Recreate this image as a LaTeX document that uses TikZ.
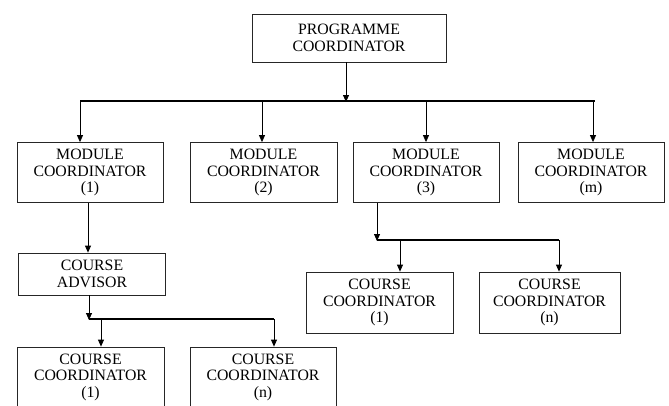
\documentclass[tikz,border=0pt]{standalone}
\usepackage{fontspec}
\setmainfont{Liberation Serif}
\usetikzlibrary{arrows.meta}
\begin{document}
\begin{tikzpicture}[x=1pt,y=-1pt,
  box/.style={draw=black!85,line width=0.8pt,rectangle,inner sep=0pt,align=center,
    font=\fontsize{15.8}{16.5}\selectfont},
  arr/.style={line width=0.8pt,-{Triangle[length=7pt,width=6pt]}},
  ln/.style={line width=0.8pt},
  bus/.style={line width=2.2pt}]
\useasboundingbox (0,0) rectangle (669,405);
\node[box,minimum width=194pt,minimum height=48pt] (prog) at (349,38) {PROGRAMME\\COORDINATOR};
\node[box,minimum width=146pt,minimum height=60pt] (m1) at (90,172.5) {MODULE\\COORDINATOR\\(1)};
\node[box,minimum width=147pt,minimum height=60pt] (m2) at (263.5,172.5) {MODULE\\COORDINATOR\\(2)};
\node[box,minimum width=146pt,minimum height=60pt] (m3) at (426,172.5) {MODULE\\COORDINATOR\\(3)};
\node[box,minimum width=146pt,minimum height=60pt] (mm) at (591,172.5) {MODULE\\COORDINATOR\\(m)};
\node[box,minimum width=147pt,minimum height=42pt] (ca) at (92,274) {COURSE\\ADVISOR};
\node[box,minimum width=147pt,minimum height=61pt] (cr1) at (379.5,302.5) {COURSE\\COORDINATOR\\(1)};
\node[box,minimum width=141pt,minimum height=61pt] (crn) at (549.5,302.5) {COURSE\\COORDINATOR\\(n)};
\node[box,minimum width=147pt,minimum height=60pt] (cb1) at (90.5,377) {COURSE\\COORDINATOR\\(1)};
\node[box,minimum width=146pt,minimum height=60pt] (cbn) at (263,377) {COURSE\\COORDINATOR\\(n)};
% top bus
\coordinate (b1L) at (80,101);
\coordinate (b1R) at (595,101);
\coordinate (b1P) at (346,101);
\draw[bus] (b1L) -- (b1R);
\draw[arr] (prog.south -| b1P) -- ([yshift=-1pt]b1P);
\coordinate (d1) at (80,101);
\coordinate (d2) at (262,101);
\coordinate (d3) at (426,101);
\coordinate (d4) at (593,101);
\draw[arr] (d1) -- (d1 |- m1.north);
\draw[arr] (d2) -- (d2 |- m2.north);
\draw[arr] (d3) -- (d3 |- m3.north);
\draw[arr] (d4) -- (d4 |- mm.north);
% module 1 to advisor
\coordinate (a1) at (88,202);
\draw[arr] (m1.south -| a1) -- (a1 |- ca.north);
% module 3 bus
\coordinate (b2L) at (377,240);
\coordinate (b2R) at (559,240);
\draw[arr] (m3.south -| b2L) -- ([yshift=-1pt]b2L);
\draw[bus] (b2L) -- (b2R);
\coordinate (e1) at (400,240);
\draw[arr] (e1) -- (e1 |- cr1.north);
\draw[arr] (b2R) -- (b2R |- crn.north);
% advisor bus
\coordinate (b3L) at (89,319);
\coordinate (b3R) at (274,319);
\draw[arr] (ca.south -| b3L) -- ([yshift=-1pt]b3L);
\draw[bus] (b3L) -- (b3R);
\coordinate (f1) at (101,319);
\draw[arr] (f1) -- (f1 |- cb1.north);
\draw[arr] (b3R) -- (b3R |- cbn.north);
\end{tikzpicture}
\end{document}
